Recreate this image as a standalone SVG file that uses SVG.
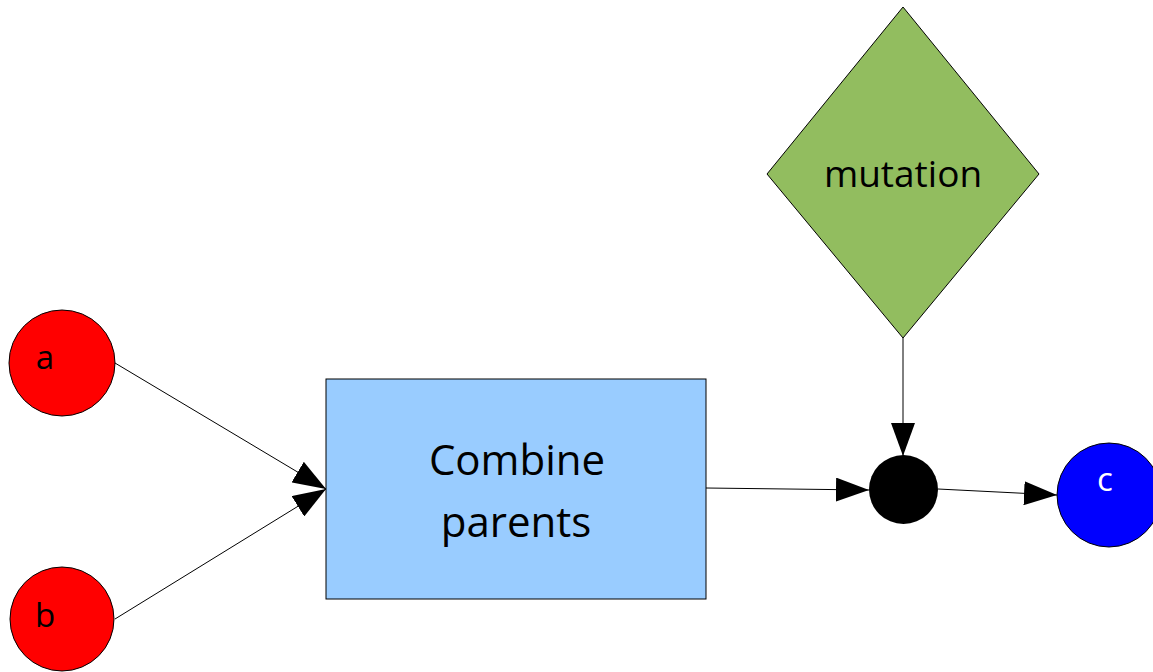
<svg xmlns="http://www.w3.org/2000/svg" width="1153" height="672" viewBox="0 0 1153 672">
<style>
.lbl{font-family:"Open Sans","Noto Sans",sans-serif;fill:#000;text-anchor:middle}
.edge{stroke:#000;stroke-width:1;fill:none;marker-end:url(#ah)}
.sh{stroke:#000;stroke-width:1}
</style>
<defs>
<marker id="ah" markerUnits="userSpaceOnUse" markerWidth="34" markerHeight="24" refX="33" refY="12" orient="auto">
<path d="M0,0 L33,12 L0,24 Z" fill="#000"/>
</marker>
</defs>
<rect width="1153" height="672" fill="#fff"/>
<g id="connectors">
<line class="edge" x1="115" y1="363" x2="326" y2="489"/>
<line class="edge" x1="115" y1="619" x2="326" y2="489"/>
<line class="edge" x1="706" y1="488" x2="869" y2="490"/>
<line class="edge" x1="903" y1="338" x2="903" y2="456"/>
<line class="edge" x1="938" y1="489" x2="1057" y2="495"/>
</g>
<g id="node-a">
<circle class="sh" cx="62" cy="363" r="53" fill="#ff0000"/>
<text class="lbl" x="45" y="369" font-size="33">a</text>
</g>
<g id="node-b">
<circle class="sh" cx="62" cy="619" r="52" fill="#ff0000"/>
<text class="lbl" x="45" y="627" font-size="33">b</text>
</g>
<g id="node-combine">
<rect class="sh" x="326" y="379" width="380" height="220" fill="#99ccff"/>
<text class="lbl" x="517" y="475" font-size="42">Combine</text>
<text class="lbl" x="516" y="537" font-size="42">parents</text>
</g>
<g id="node-mutation">
<polygon class="sh" points="903,7 1039,174 903,338 767,174" fill="#92bd5f"/>
<text class="lbl" x="903" y="187" font-size="37">mutation</text>
</g>
<g id="node-join">
<circle cx="903.5" cy="489.5" r="34.5" fill="#000"/>
</g>
<g id="node-c">
<circle class="sh" cx="1109" cy="495" r="52" fill="#0000ff"/>
<text class="lbl" x="1105" y="491" font-size="33" style="fill:#fff">c</text>
</g>
</svg>
